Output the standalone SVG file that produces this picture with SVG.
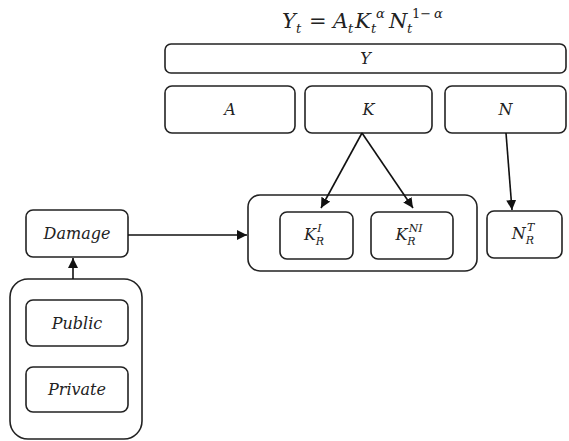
<svg xmlns="http://www.w3.org/2000/svg" width="569" height="441" viewBox="0 0 569 441">
  <defs>
    <marker id="arrow" viewBox="0 0 10 10" refX="10" refY="5" markerWidth="10" markerHeight="10" markerUnits="userSpaceOnUse" orient="auto">
      <path d="M0,0 L10,5 L0,10 z" fill="#111"/>
    </marker>
    <style>
      .box { fill: #fff; stroke: #222; stroke-width: 1.6; }
      .lbl { font-family: "DejaVu Serif", "Liberation Serif", serif; font-style: italic; font-size: 16px; fill: #222; text-anchor: middle; }
      .eq { font-family: "DejaVu Serif", "Liberation Serif", serif; font-style: italic; font-size: 21px; fill: #222; }
      .eqs { font-size: 13px; }
      .edge { fill: none; stroke: #111; stroke-width: 1.6; marker-end: url(#arrow); }
    </style>
  </defs>
  <rect width="569" height="441" fill="#fff"/>

  <!-- production function: Y_t = A_t K_t^a N_t^(1-a) -->
  <text class="eq" y="28"><tspan x="282">Y</tspan><tspan class="eqs" x="296" y="33">t</tspan><tspan x="309" y="28" font-style="normal">=</tspan><tspan x="333">A</tspan><tspan class="eqs" x="348" y="33">t</tspan><tspan x="355" y="28">K</tspan><tspan class="eqs" x="371" y="33">t</tspan><tspan class="eqs" x="376" y="18">α</tspan><tspan x="389" y="28">N</tspan><tspan class="eqs" x="407" y="33">t</tspan><tspan class="eqs" x="412" y="18" font-style="normal">1−</tspan><tspan class="eqs" x="434" y="18">α</tspan></text>

  <g id="node-Y">
    <rect class="box" x="165" y="44" width="401" height="29" rx="6"/>
    <text class="lbl" x="365.5" y="64">Y</text>
  </g>
  <g id="node-A">
    <rect class="box" x="165" y="86" width="130" height="47" rx="7"/>
    <text class="lbl" x="230" y="115">A</text>
  </g>
  <g id="node-K">
    <rect class="box" x="305" y="86" width="127" height="47" rx="7"/>
    <text class="lbl" x="368.5" y="115">K</text>
  </g>
  <g id="node-N">
    <rect class="box" x="445" y="86" width="121" height="47" rx="7"/>
    <text class="lbl" x="505.5" y="115">N</text>
  </g>

  <g id="node-KR">
    <rect class="box" x="248" y="195" width="229" height="76" rx="12"/>
  </g>
  <g id="node-KRI">
    <rect class="box" x="280" y="212" width="73" height="47" rx="7"/>
    <text class="lbl" x="314" y="240">K<tspan font-size="11" dy="5">R</tspan><tspan font-size="11" dx="-7" dy="-13">I</tspan></text>
  </g>
  <g id="node-KRNI">
    <rect class="box" x="371" y="212" width="82" height="47" rx="7"/>
    <text class="lbl" x="409" y="240">K<tspan font-size="11" dy="5">R</tspan><tspan font-size="11" dx="-7" dy="-13">NI</tspan></text>
  </g>
  <g id="node-NRT">
    <rect class="box" x="487" y="211" width="75" height="47" rx="7"/>
    <text class="lbl" x="523" y="239">N<tspan font-size="11" dy="5">R</tspan><tspan font-size="11" dx="-7" dy="-13">T</tspan></text>
  </g>

  <g id="node-Damage">
    <rect class="box" x="26" y="210" width="102" height="47" rx="7"/>
    <text class="lbl" x="77" y="239">Damage</text>
  </g>
  <g id="node-Owners">
    <rect class="box" x="10" y="279" width="132" height="160" rx="18"/>
  </g>
  <g id="node-Public">
    <rect class="box" x="26" y="300" width="102" height="46" rx="7"/>
    <text class="lbl" x="77" y="328.5">Public</text>
  </g>
  <g id="node-Private">
    <rect class="box" x="26" y="367" width="102" height="45" rx="7"/>
    <text class="lbl" x="77" y="395">Private</text>
  </g>

  <g id="connectors">
    <line class="edge" x1="362" y1="133" x2="321" y2="208"/>
    <line class="edge" x1="362" y1="133" x2="413" y2="208"/>
    <line class="edge" x1="506" y1="133" x2="512" y2="210"/>
    <line class="edge" x1="128" y1="235" x2="247" y2="235"/>
    <line class="edge" x1="73" y1="279" x2="73" y2="258"/>
  </g>
</svg>
